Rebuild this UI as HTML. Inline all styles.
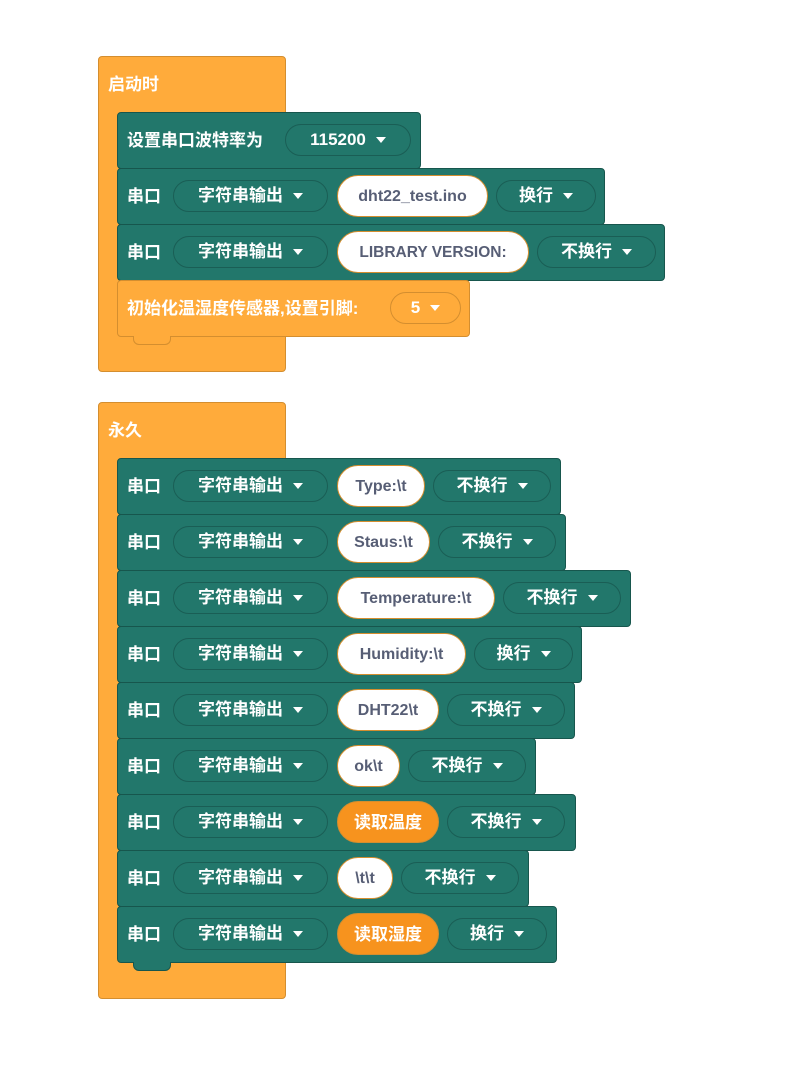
<!DOCTYPE html>
<html><head><meta charset="utf-8"><style>
body{margin:0;width:799px;height:1084px;background:#fff;position:relative;font-family:"Liberation Sans","Noto Sans CJK SC",sans-serif;font-weight:bold;overflow:hidden}
div{box-sizing:border-box;position:absolute}
.o{background:#FFAB3B;border:1px solid #D48E2F;border-radius:4px}
.t{background:#22776B;border:1px solid #17564D;border-radius:4px;height:57px}
.lbl{color:#fff;font-size:17px;line-height:20px}
.dd{height:32px;border:1px solid #1A5E55;border-radius:16px;background:#22776B;color:#fff;font-size:17px;line-height:20px;display:flex;align-items:center;justify-content:center;gap:10px}
.dd::after{content:"";border-left:5px solid transparent;border-right:5px solid transparent;border-top:6px solid #fff}
.odd{background:#FFAB3B;border-color:#D48E2F}
.s{height:42px;border-radius:21px;background:#fff;border:1px solid #D48E2F;color:#575E75;font-size:16px;line-height:20px;display:flex;align-items:center;justify-content:center;padding-top:2px}
.os{background:#F7931E;color:#fff;font-size:17px}
.tab{width:38px;height:9px;background:#22776B;border:1px solid #17564D;border-top:none;border-radius:0 0 6px 6px}
</style></head><body>
<!-- hat 1 -->
<div class="o" style="left:98px;top:56px;width:188px;height:316px"></div>
<div class="lbl" style="left:108px;top:75px">启动时</div>
<div class="t" style="left:117px;top:112px;width:304px"></div>
<div class="lbl" style="left:127px;top:131px">设置串口波特率为</div>
<div class="dd" style="left:285px;top:124px;width:126px">115200</div>
<div class="t" style="left:117px;top:168px;width:488px"></div>
<div class="lbl" style="left:127px;top:187px">串口</div>
<div class="dd" style="left:173px;top:180px;width:155px">字符串输出</div>
<div class="s" style="left:337px;top:175px;width:151px">dht22_test.ino</div>
<div class="dd" style="left:496px;top:180px;width:100px">换行</div>
<div class="t" style="left:117px;top:224px;width:548px"></div>
<div class="lbl" style="left:127px;top:243px">串口</div>
<div class="dd" style="left:173px;top:236px;width:155px">字符串输出</div>
<div class="s" style="left:337px;top:231px;width:192px;font-size:15.5px">LIBRARY VERSION:</div>
<div class="dd" style="left:537px;top:236px;width:119px">不换行</div>
<div class="o" style="left:117px;top:280px;width:353px;height:57px"></div>
<div class="lbl" style="left:127px;top:299px">初始化温湿度传感器,设置引脚:</div>
<div class="dd odd" style="left:390px;top:292px;width:71px">5</div>
<div style="left:133px;top:336px;width:38px;height:9px;background:#FFAB3B;border:1px solid #D48E2F;border-top:none;border-radius:0 0 6px 6px"></div>

<!-- hat 2 -->
<div class="o" style="left:98px;top:402px;width:188px;height:597px"></div>
<div class="lbl" style="left:108px;top:421px">永久</div>

<div class="t" style="left:117px;top:458px;width:444px"></div>
<div class="lbl" style="left:127px;top:477px">串口</div>
<div class="dd" style="left:173px;top:470px;width:155px">字符串输出</div>
<div class="s" style="left:337px;top:465px;width:88px">Type:\t</div>
<div class="dd" style="left:433px;top:470px;width:118px">不换行</div>

<div class="t" style="left:117px;top:514px;width:449px"></div>
<div class="lbl" style="left:127px;top:533px">串口</div>
<div class="dd" style="left:173px;top:526px;width:155px">字符串输出</div>
<div class="s" style="left:337px;top:521px;width:93px">Staus:\t</div>
<div class="dd" style="left:438px;top:526px;width:118px">不换行</div>

<div class="t" style="left:117px;top:570px;width:514px"></div>
<div class="lbl" style="left:127px;top:589px">串口</div>
<div class="dd" style="left:173px;top:582px;width:155px">字符串输出</div>
<div class="s" style="left:337px;top:577px;width:158px">Temperature:\t</div>
<div class="dd" style="left:503px;top:582px;width:118px">不换行</div>

<div class="t" style="left:117px;top:626px;width:465px"></div>
<div class="lbl" style="left:127px;top:645px">串口</div>
<div class="dd" style="left:173px;top:638px;width:155px">字符串输出</div>
<div class="s" style="left:337px;top:633px;width:129px">Humidity:\t</div>
<div class="dd" style="left:474px;top:638px;width:99px">换行</div>

<div class="t" style="left:117px;top:682px;width:458px"></div>
<div class="lbl" style="left:127px;top:701px">串口</div>
<div class="dd" style="left:173px;top:694px;width:155px">字符串输出</div>
<div class="s" style="left:337px;top:689px;width:102px">DHT22\t</div>
<div class="dd" style="left:447px;top:694px;width:118px">不换行</div>

<div class="t" style="left:117px;top:738px;width:419px"></div>
<div class="lbl" style="left:127px;top:757px">串口</div>
<div class="dd" style="left:173px;top:750px;width:155px">字符串输出</div>
<div class="s" style="left:337px;top:745px;width:63px">ok\t</div>
<div class="dd" style="left:408px;top:750px;width:118px">不换行</div>

<div class="t" style="left:117px;top:794px;width:459px"></div>
<div class="lbl" style="left:127px;top:813px">串口</div>
<div class="dd" style="left:173px;top:806px;width:155px">字符串输出</div>
<div class="s os" style="left:337px;top:801px;width:102px">读取温度</div>
<div class="dd" style="left:447px;top:806px;width:118px">不换行</div>

<div class="t" style="left:117px;top:850px;width:412px"></div>
<div class="lbl" style="left:127px;top:869px">串口</div>
<div class="dd" style="left:173px;top:862px;width:155px">字符串输出</div>
<div class="s" style="left:337px;top:857px;width:56px">\t\t</div>
<div class="dd" style="left:401px;top:862px;width:118px">不换行</div>

<div class="t" style="left:117px;top:906px;width:440px"></div>
<div class="lbl" style="left:127px;top:925px">串口</div>
<div class="dd" style="left:173px;top:918px;width:155px">字符串输出</div>
<div class="s os" style="left:337px;top:913px;width:102px">读取湿度</div>
<div class="dd" style="left:447px;top:918px;width:100px">换行</div>
<div class="tab" style="left:133px;top:962px"></div>
</body></html>
